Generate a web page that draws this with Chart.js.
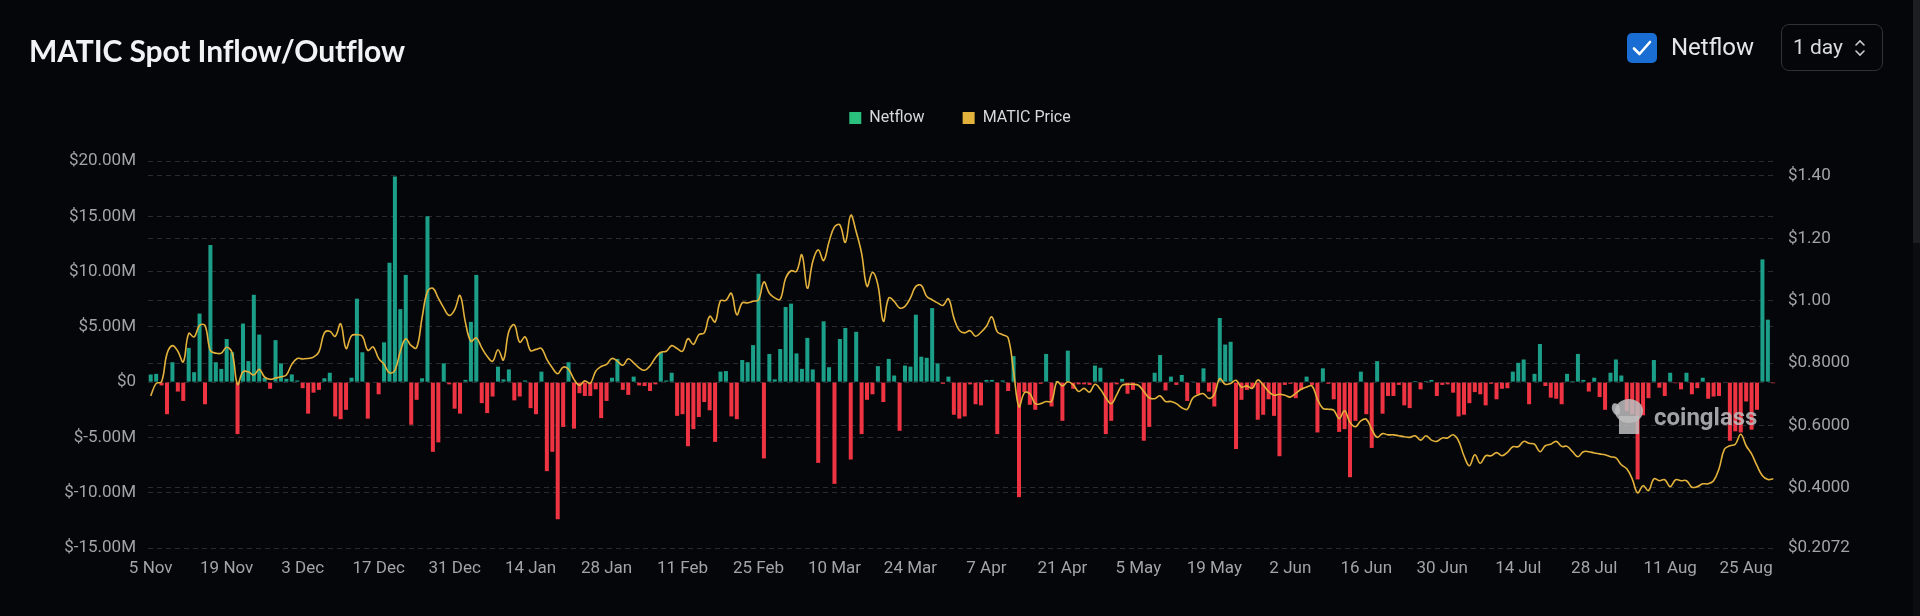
<!DOCTYPE html>
<html>
<head>
<meta charset="utf-8">
<title>MATIC Spot Inflow/Outflow</title>
<script src="https://cdn.jsdelivr.net/npm/chart.js@4.4.1/dist/chart.umd.min.js"></script>
<style>
  html, body { margin: 0; padding: 0; background: #050609; overflow: hidden; }
  #wrap { position: relative; width: 1920px; height: 616px; background: #050609; }
  #chart { position: absolute; left: 0; top: 0; }
  .title { position: absolute; left: 29px; top: 32px; font: 700 30px Lato, sans-serif; color: #f1f2f4; letter-spacing: -0.1px; }
  .check { position: absolute; left: 1627px; top: 33px; width: 30px; height: 30px; border-radius: 5px; background: #1a6dd2; }
  .check svg { position: absolute; left: 5px; top: 6px; }
  .check-label { position: absolute; left: 1671px; top: 33px; font: 400 24px Roboto, sans-serif; color: #e4e6ea; }
  .select { position: absolute; left: 1781px; top: 24px; width: 102px; height: 47px; border: 1px solid #303236; border-radius: 8px; box-sizing: border-box; }
  .select span { position: absolute; left: 11px; top: 10px; font: 400 21px Roboto, sans-serif; color: #d8dadd; }
  .select svg { position: absolute; left: 72px; top: 13px; }
  .scroll { position: absolute; left: 1913px; top: 0; width: 7px; height: 616px; background: #0c0d10; }
  .scroll div { width: 7px; height: 243px; background: #1d1e21; }
</style>
</head>
<body>
<div id="wrap">
  <canvas id="chart" width="1920" height="616"></canvas>
  <div class="title">MATIC Spot Inflow/Outflow</div>
  <div class="check">
    <svg width="20" height="18" viewBox="0 0 20 18"><path d="M2 9.5 L7.5 15 L18 3" stroke="#fff" stroke-width="2.6" fill="none" stroke-linecap="round" stroke-linejoin="round"/></svg>
  </div>
  <div class="check-label">Netflow</div>
  <div class="select">
    <span>1 day</span>
    <svg width="12" height="20" viewBox="0 0 12 20"><path d="M2 7 L6 3 L10 7 M2 13 L6 17 L10 13" stroke="#c9cbcf" stroke-width="1.6" fill="none" stroke-linecap="round"/></svg>
  </div>
  <div class="scroll"><div></div></div>
</div>
<script>
// categories: one per day, 5 Nov 2023 .. 30 Aug 2024
const monthNames = ['Jan', 'Feb', 'Mar', 'Apr', 'May', 'Jun', 'Jul', 'Aug', 'Sep', 'Oct', 'Nov', 'Dec'];
const dayCount = 300;
const categories = [];
for (let i = 0; i < dayCount; i++) {
  const d = new Date(2023, 10, 5 + i);
  categories.push(d.getDate() + ' ' + monthNames[d.getMonth()]);
}

const tickLabels = ['5 Nov', '19 Nov', '3 Dec', '17 Dec', '31 Dec', '14 Jan', '28 Jan', '11 Feb', '25 Feb',
  '10 Mar', '24 Mar', '7 Apr', '21 Apr', '5 May', '19 May', '2 Jun', '16 Jun', '30 Jun', '14 Jul', '28 Jul',
  '11 Aug', '25 Aug'];

// netflow, $M per day
const netflow = [
  0.69, 0.75, -0.3, -2.9, 1.8, -0.85, -1.7, 3.1, 0.9, 6.2,
  -2.0, 12.4, 1.8, 1.2, 3.9, 2.7, -4.7, 5.3, 1.9, 7.9,
  4.3, 0.4, -0.6, 3.8, 1.7, 0.3, 0.7, 0.15, -0.55, -2.85,
  -0.95, -0.7, 0.35, 0.85, -3.1, -3.35, -2.5, 0.4, 7.55, 2.7,
  -3.3, 0.05, -1.1, 3.6, 10.8, 18.6, 6.6, 9.7, -3.85, -1.6,
  0.35, 15.0, -6.3, -5.45, 1.7, -0.2, -2.4, -2.85, 0.2, 5.45,
  9.7, -1.9, -2.8, -1.3, 1.4, 0.25, 1.15, -1.65, -1.3, 0.15,
  -2.35, -2.9, 0.95, -8.05, -6.3, -12.4, -4.05, 1.8, -4.2, -1.0,
  -1.25, -1.25, -0.65, -3.25, -1.7, 0.4, 2.1, -0.7, -1.15, 0.5,
  -0.3, -0.35, -0.8, -0.2, 2.7, 0.15, 0.85, -3.05, -2.9, -5.8,
  -4.25, -3.15, -1.8, -2.55, -5.4, 0.95, 1.0, -3.1, -3.35, 2.0,
  1.8, 3.35, 9.8, -6.9, 2.55, 0.25, 3.0, 6.8, 7.1, 2.6,
  1.2, 4.0, 1.15, -7.3, 5.5, 1.35, -9.2, 3.9, 4.9, -7.0,
  4.55, -4.7, -1.6, -1.1, 1.45, -1.8, 2.1, 0.6, -4.4, 1.5,
  1.4, 6.1, 2.3, 2.2, 6.7, 1.7, -0.15, 0.5, -2.95, -3.3,
  -3.1, -0.2, -2.0, -2.1, 0.2, 0.2, -4.7, 0.15, -0.8, 2.35,
  -10.4, -0.9, -2.05, -2.5, -0.15, 2.55, -2.2, 0.1, -3.5, 2.85,
  -0.6, -0.2, -0.2, -0.25, 1.5, 1.3, -4.7, -3.5, -0.2, 0.3,
  -1.05, -0.7, 0.05, -5.3, -4.05, 0.85, 2.45, -0.75, 0.5, -0.25,
  0.65, -1.7, 0.02, -1.1, 1.25, -0.85, -2.2, 5.8, 3.4, 3.65,
  -6.05, -1.6, -0.7, -0.55, -3.4, -2.95, -1.55, -3.05, -6.7, -0.25,
  -0.15, -1.45, -0.7, 0.5, -0.25, -4.55, 1.25, -0.15, -1.55, -4.5,
  -4.25, -8.6, -3.5, 0.95, -2.9, -5.95, 1.9, -2.85, -1.25, -1.25,
  -0.25, -2.1, -2.35, 0.1, -0.65, 0.1, 0.2, -1.25, -0.25, -0.2,
  -0.95, -3.1, -2.95, -1.9, -0.9, -1.1, -2.1, -0.15, -1.55, -0.6,
  -0.55, 0.95, 1.75, 2.05, -2.0, 0.75, 3.45, -0.35, -1.4, -1.5,
  -2.0, 0.75, 0.1, 2.55, 0.2, -0.85, 0.4, -1.35, -2.5, 0.85,
  2.05, 0.6, -2.6, -2.9, -8.8, -3.0, -1.45, 2.0, -0.5, -1.25,
  0.85, -0.1, -0.65, 0.85, -1.1, -0.55, 0.4, -1.5, -1.3, -1.25,
  0.05, -5.3, -4.45, -4.55, -1.75, -4.3, -2.5, 11.1, 5.65, -0.1
];

// MATIC price, $ per day
const maticPrice = [
  0.695, 0.735, 0.740, 0.830, 0.856, 0.838, 0.804, 0.895, 0.884, 0.921,
  0.921, 0.840, 0.832, 0.832, 0.851, 0.833, 0.732, 0.772, 0.772, 0.762,
  0.780, 0.755, 0.748, 0.752, 0.756, 0.762, 0.796, 0.815, 0.813, 0.815,
  0.819, 0.836, 0.897, 0.902, 0.886, 0.926, 0.847, 0.888, 0.891, 0.886,
  0.841, 0.852, 0.815, 0.796, 0.769, 0.777, 0.838, 0.878, 0.856, 0.849,
  0.945, 1.030, 1.040, 1.008, 0.977, 0.953, 0.971, 1.017, 0.930, 0.870,
  0.881, 0.849, 0.822, 0.806, 0.843, 0.810, 0.902, 0.923, 0.867, 0.884,
  0.840, 0.844, 0.847, 0.812, 0.785, 0.766, 0.787, 0.780, 0.748, 0.729,
  0.743, 0.735, 0.774, 0.789, 0.796, 0.815, 0.806, 0.793, 0.814, 0.801,
  0.785, 0.777, 0.791, 0.817, 0.835, 0.838, 0.856, 0.847, 0.838, 0.878,
  0.860, 0.891, 0.897, 0.950, 0.932, 1.000, 1.001, 1.024, 0.955, 0.993,
  0.993, 0.998, 1.003, 1.060, 1.024, 1.009, 1.005, 1.072, 1.096, 1.094,
  1.147, 1.040, 1.126, 1.163, 1.129, 1.189, 1.237, 1.243, 1.187, 1.274,
  1.221, 1.152, 1.046, 1.091, 1.051, 0.934, 1.009, 0.998, 0.977, 0.982,
  1.009, 1.046, 1.049, 1.014, 1.003, 0.993, 0.985, 1.006, 0.945, 0.905,
  0.897, 0.904, 0.886, 0.899, 0.918, 0.948, 0.900, 0.891, 0.881, 0.774,
  0.660, 0.705, 0.702, 0.670, 0.670, 0.677, 0.677, 0.740, 0.727, 0.740,
  0.730, 0.709, 0.719, 0.707, 0.732, 0.716, 0.689, 0.670, 0.698, 0.729,
  0.732, 0.732, 0.729, 0.709, 0.689, 0.686, 0.695, 0.677, 0.677, 0.670,
  0.657, 0.652, 0.687, 0.698, 0.702, 0.687, 0.700, 0.750, 0.732, 0.735,
  0.745, 0.723, 0.727, 0.719, 0.746, 0.730, 0.709, 0.697, 0.700, 0.697,
  0.691, 0.703, 0.716, 0.723, 0.727, 0.684, 0.655, 0.652, 0.649, 0.622,
  0.647, 0.610, 0.596, 0.615, 0.620, 0.588, 0.562, 0.574, 0.570, 0.570,
  0.567, 0.564, 0.562, 0.567, 0.553, 0.567, 0.553, 0.549, 0.560, 0.560,
  0.570, 0.551, 0.503, 0.471, 0.506, 0.479, 0.503, 0.503, 0.513, 0.503,
  0.514, 0.532, 0.532, 0.549, 0.543, 0.540, 0.516, 0.535, 0.540, 0.549,
  0.533, 0.533, 0.516, 0.500, 0.516, 0.516, 0.512, 0.509, 0.506, 0.500,
  0.496, 0.474, 0.461, 0.429, 0.384, 0.407, 0.391, 0.429, 0.423, 0.426,
  0.404, 0.426, 0.423, 0.423, 0.402, 0.404, 0.413, 0.413, 0.423, 0.461,
  0.524, 0.535, 0.540, 0.572, 0.535, 0.509, 0.471, 0.439, 0.427, 0.429
];

const netflowTicks = [-15, -10, -5, 0, 5, 10, 15, 20];
const priceTicks = [0.2072, 0.4, 0.6, 0.8, 1.0, 1.2, 1.4];

const colors = {
  up: '#1c9f88',
  down: '#ee3342',
  legendUp: '#2bbf7e',
  price: '#e3b23c',
  grid: '#2a2c31',
  tick: '#a2a4a8',
  legendText: '#d6d8db',
};

/*-------------*/
// push the plot area down below the legend
const legendGap = {
  id: 'legendGap',
  beforeInit(chart) {
    const fit = chart.legend.fit;
    chart.legend.fit = function () {
      fit.bind(chart.legend)();
      this.height += 25;
    };
  },
};

// coinglass watermark
const watermark = {
  id: 'watermark',
  afterDatasetsDraw(chart) {
    const { ctx } = chart;
    ctx.save();
    ctx.fillStyle = 'rgba(190,190,192,0.85)';
    ctx.beginPath();
    ctx.ellipse(1629, 411, 14, 12, 0, 0, Math.PI * 2);
    ctx.fill();
    ctx.fillRect(1619, 416, 20, 18);
    ctx.beginPath();
    ctx.ellipse(1616, 409, 4, 6, -0.3, 0, Math.PI * 2);
    ctx.fill();
    ctx.font = '700 24px Roboto, sans-serif';
    ctx.textBaseline = 'middle';
    ctx.fillText('coinglass', 1654, 419);
    ctx.restore();
  },
};

const tickFont = { family: 'Roboto, sans-serif', size: 17 };

const config = {
  data: {
    labels: categories,
    datasets: [
      {
        type: 'bar',
        label: 'Netflow',
        data: netflow,
        yAxisID: 'y',
        order: 2,
        backgroundColor: (ctx) => (ctx.raw >= 0 ? colors.up : colors.down),
        barPercentage: 0.74,
        categoryPercentage: 1,
      },
      {
        type: 'line',
        label: 'MATIC Price',
        data: maticPrice,
        yAxisID: 'y1',
        order: 1,
        borderColor: colors.price,
        backgroundColor: colors.price,
        borderWidth: 1.6,
        pointRadius: 0,
        tension: 0.4,
        fill: false,
      },
    ],
  },
  options: {
    responsive: false,
    animation: false,
    layout: { padding: { top: 72, left: 0, right: 0, bottom: 0 } },
    plugins: {
      tooltip: { enabled: false },
      legend: {
        position: 'top',
        align: 'center',
        labels: {
          color: colors.legendText,
          font: { family: 'Roboto, sans-serif', size: 16 },
          boxWidth: 12,
          boxHeight: 12,
          padding: 38,
          generateLabels() {
            return [
              { text: 'Netflow', fillStyle: colors.legendUp, strokeStyle: colors.legendUp, fontColor: colors.legendText, lineWidth: 0, hidden: false, datasetIndex: 0 },
              { text: 'MATIC Price', fillStyle: colors.price, strokeStyle: colors.price, fontColor: colors.legendText, lineWidth: 0, hidden: false, datasetIndex: 1 },
            ];
          },
        },
      },
    },
    scales: {
      x: {
        offset: true,
        grid: { display: false, drawTicks: false },
        border: { display: false },
        ticks: {
          autoSkip: false,
          maxRotation: 0,
          minRotation: 0,
          padding: 11,
          color: colors.tick,
          font: tickFont,
          callback(value) {
            const label = this.getLabelForValue(value);
            return tickLabels.includes(label) ? label : '';
          },
        },
        afterFit(scale) { scale.height = 68; },
      },
      y: {
        position: 'left',
        min: -15,
        max: 20,
        grid: { color: colors.grid, drawTicks: false },
        border: { display: false, dash: [5, 4] },
        ticks: {
          padding: 12,
          color: colors.tick,
          font: tickFont,
          callback: (v) => (v === 0 ? '$0' : '$' + v.toFixed(2) + 'M'),
        },
        afterBuildTicks(axis) { axis.ticks = netflowTicks.map((v) => ({ value: v })); },
        afterFit(scale) { scale.width = 148; },
      },
      y1: {
        position: 'right',
        min: 0.2072,
        max: 1.448,
        grid: { color: colors.grid, drawTicks: false },
        border: { display: false, dash: [5, 4] },
        ticks: {
          padding: 12,
          color: colors.tick,
          font: tickFont,
          callback: (v) => '$' + (v >= 1 ? v.toFixed(2) : v.toFixed(4)),
        },
        afterBuildTicks(axis) { axis.ticks = priceTicks.map((v) => ({ value: v })); },
        afterFit(scale) { scale.width = 144; },
      },
    },
  },
  plugins: [legendGap, watermark],
};

new Chart(document.getElementById('chart'), config);
</script>
</body>
</html>
